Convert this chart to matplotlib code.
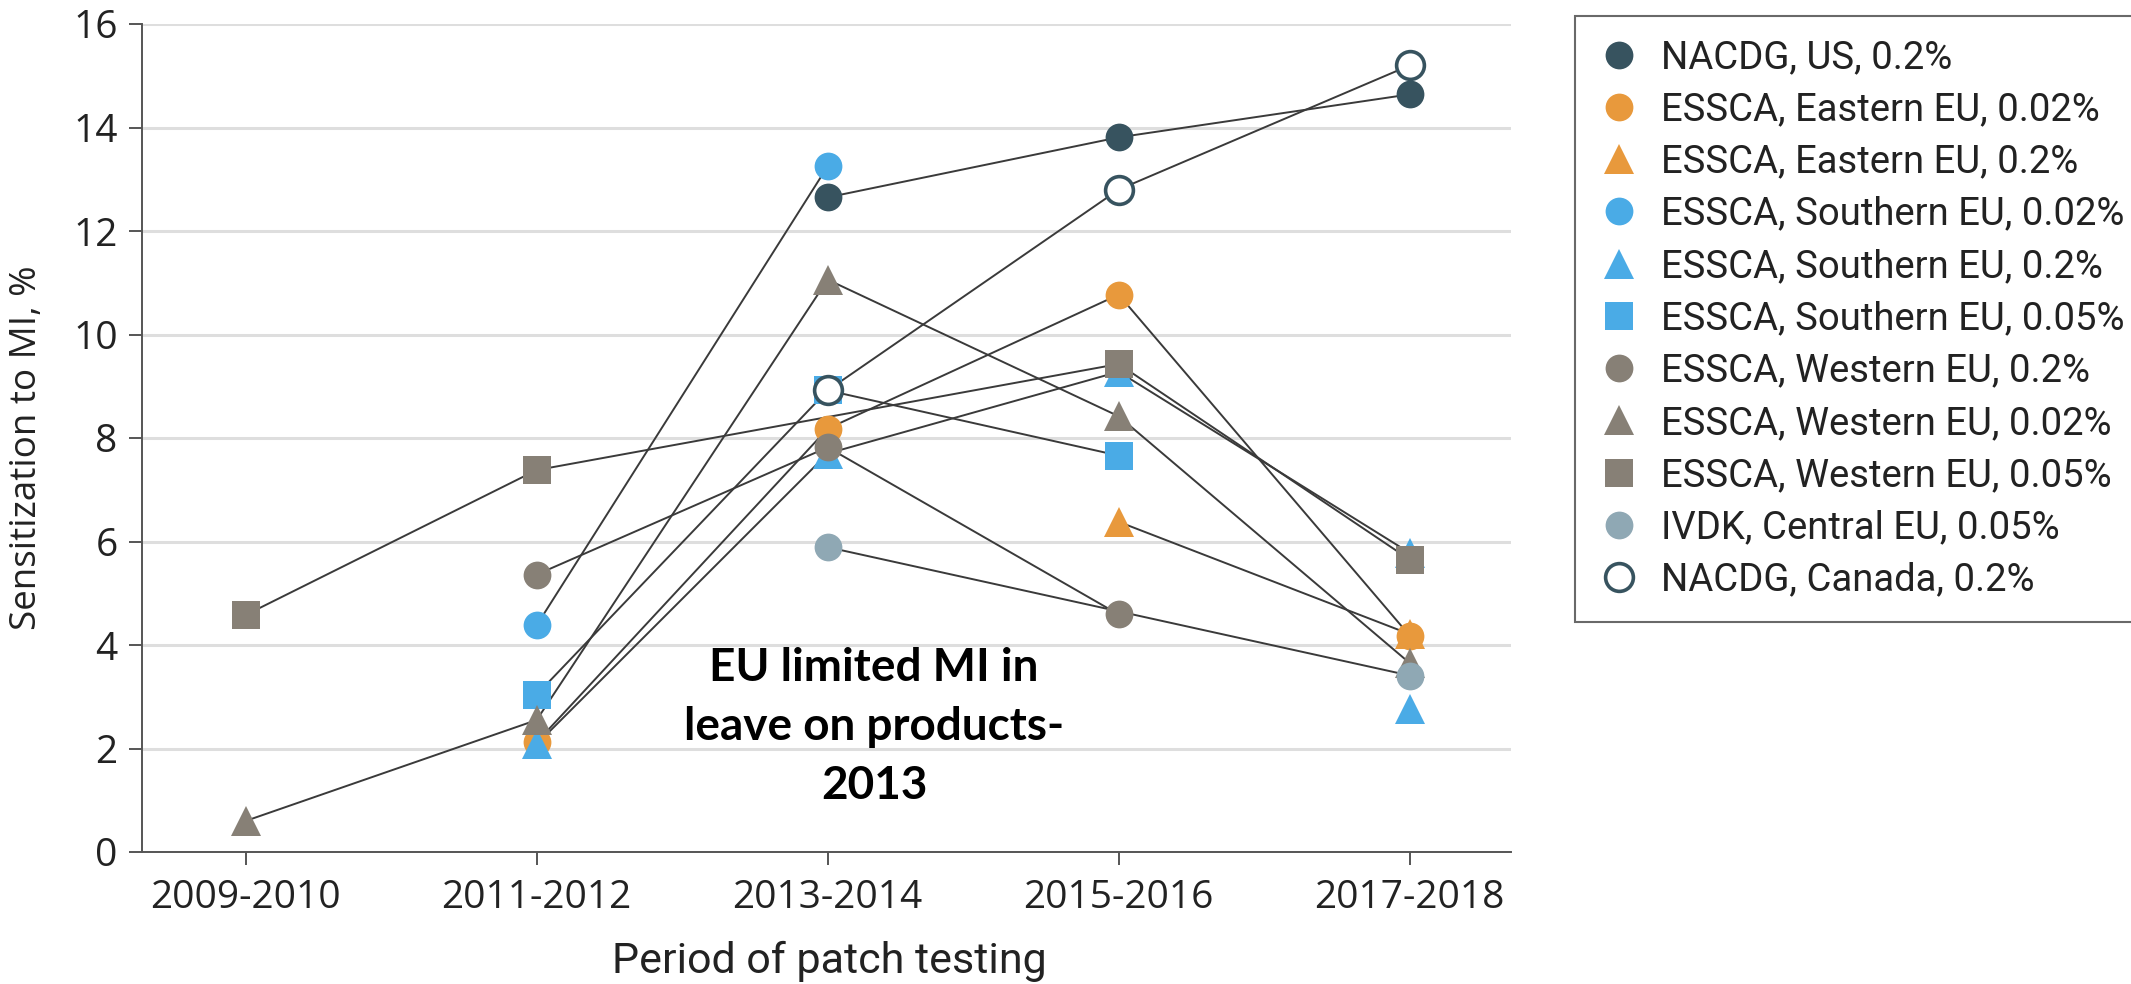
import numpy as np
import matplotlib.pyplot as plt
from matplotlib.lines import Line2D

plt.rcParams['font.family'] = ['Roboto', 'DejaVu Sans']

periods = ['2009-2010', '2011-2012', '2013-2014', '2015-2016', '2017-2018']
nan = np.nan

# sensitization to MI (%) per period, nan = not tested in that period
nacdg_us = [nan, nan, 12.65, 13.81, 14.64]
essca_east_002 = [nan, 2.12, 8.18, 10.77, 4.18]
essca_east_02 = [nan, nan, nan, 6.38, 4.21]
essca_south_002 = [nan, 4.38, 13.25, nan, nan]
essca_south_02 = [nan, 2.08, 7.70, 9.28, 5.78]
essca_south_005 = [nan, 3.04, 8.92, 7.66, nan]
essca_west_02 = [nan, 5.36, 7.82, 4.59, nan]
essca_west_002 = [0.60, 2.55, 11.06, 8.42, 3.65]
essca_west_005 = [4.58, 7.38, nan, 9.43, 5.65]
ivdk_central_005 = [nan, nan, 5.89, nan, 3.41]
nacdg_canada = [nan, nan, 8.92, 12.80, 15.20]
# lone Southern EU 0.2% point, not joined to the series
essca_south_02_extra = [nan, nan, nan, nan, 2.77]

dark = '#37535f'
orange = '#e8993c'
blue = '#4aabe6'
taupe = '#878076'
steel = '#8fa8b4'

series = [
    ('NACDG, US, 0.2%', nacdg_us, 'o', dark, dark),
    ('ESSCA, Eastern EU, 0.02%', essca_east_002, 'o', orange, orange),
    ('ESSCA, Eastern EU, 0.2%', essca_east_02, '^', orange, orange),
    ('ESSCA, Southern EU, 0.02%', essca_south_002, 'o', blue, blue),
    ('ESSCA, Southern EU, 0.2%', essca_south_02, '^', blue, blue),
    ('ESSCA, Southern EU, 0.05%', essca_south_005, 's', blue, blue),
    ('ESSCA, Western EU, 0.2%', essca_west_02, 'o', taupe, taupe),
    ('ESSCA, Western EU, 0.02%', essca_west_002, '^', taupe, taupe),
    ('ESSCA, Western EU, 0.05%', essca_west_005, 's', taupe, taupe),
    ('IVDK, Central EU, 0.05%', ivdk_central_005, 'o', steel, steel),
    ('NACDG, Canada, 0.2%', nacdg_canada, 'o', 'white', dark),
]
msize = {'o': 20, '^': 22, 's': 19.5}

fig = plt.figure(figsize=(21.31, 9.84), dpi=100)
ax = fig.add_axes([142 / 2131, 132 / 984, 1369 / 2131, 828 / 984])

x = np.arange(len(periods))
handles = []
for label, vals, mk, fc, ec in series:
    y = np.array(vals, dtype=float)
    ok = ~np.isnan(y)
    ax.plot(x[ok], y[ok], color='#3a3a3a', lw=1.4, zorder=2, clip_on=False)
for label, vals, mk, fc, ec in series:
    y = np.array(vals, dtype=float)
    ok = ~np.isnan(y)
    mew = 2.6 if fc == 'white' else 0
    ax.plot(x[ok], y[ok], ls='none', marker=mk, ms=msize[mk], mfc=fc, mec=ec,
            mew=mew, zorder=3, clip_on=False)
    if label == 'ESSCA, Southern EU, 0.2%':
        extra = np.array(essca_south_02_extra, dtype=float)
        ok2 = ~np.isnan(extra)
        ax.plot(x[ok2], extra[ok2], ls='none', marker=mk, ms=msize[mk], mfc=fc,
                mec=ec, mew=0, zorder=3, clip_on=False)
    handles.append(Line2D([], [], ls='none', marker=mk, ms=msize[mk], mfc=fc,
                          mec=ec, mew=mew, label=label))

ax.set_xlim(-0.356, 4.348)
ax.set_ylim(0, 16)
ax.set_xticks(x)
ax.set_xticklabels(periods)
ax.set_yticks(range(0, 17, 2))
ax.yaxis.grid(True, color='#dedede', lw=2.2)
ax.set_axisbelow(True)
for side in ['top', 'right']:
    ax.spines[side].set_visible(False)
for side in ['left', 'bottom']:
    ax.spines[side].set_color('#555555')
    ax.spines[side].set_linewidth(1.4)
ax.tick_params(axis='both', length=9.5, width=1.4, color='#555555',
               labelsize=28, labelcolor='#222222')
ax.tick_params(axis='y', pad=8)
ax.tick_params(axis='x', pad=10)
for t in ax.get_xticklabels() + ax.get_yticklabels():
    t.set_family(['Open Sans', 'DejaVu Sans'])

ax.text(2.16, 2.42, 'EU limited MI in\nleave on products-\n2013', ha='center',
        va='center', multialignment='center', fontsize=33, fontweight='bold',
        family=['Lato', 'DejaVu Sans'], color='black', linespacing=1.5, zorder=4)

fig.text(27.5 / 2131, 1 - 448 / 984, 'Sensitization to MI, %', rotation=90,
         ha='center', va='center', fontsize=26.5, color='#222222',
         family=['Open Sans', 'DejaVu Sans'])
fig.text(829 / 2131, 1 - 961 / 984, 'Period of patch testing', ha='center',
         va='center', fontsize=31, color='#222222')

leg = fig.legend(handles=handles, loc='upper left',
                 bbox_to_anchor=(1575 / 2131, 1 - 16 / 984), borderaxespad=0,
                 fontsize=27.5, frameon=True, fancybox=False, borderpad=0.6,
                 labelspacing=0.4, handlelength=1.1, handletextpad=0.55)
leg.get_frame().set_edgecolor('#444444')
leg.get_frame().set_linewidth(1.5)
for t in leg.get_texts():
    t.set_color('#222222')

fig.savefig('out.png', dpi=100)
